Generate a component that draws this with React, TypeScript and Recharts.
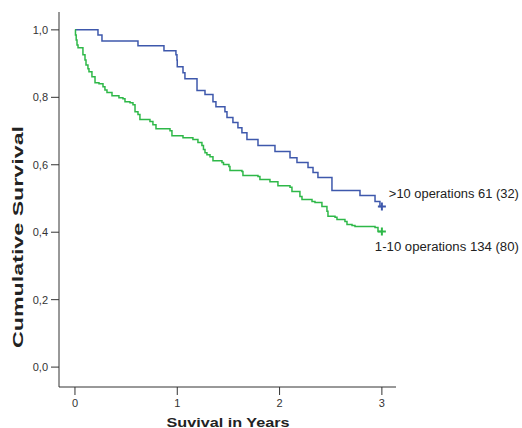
import React from "react";
import { ComposedChart, Line, XAxis, YAxis, Label } from "recharts";

// >10 operations (n=61, 32 events)
const highTimes = [0, 0.225, 0.264, 0.616, 0.87, 0.987, 0.997, 1.0, 1.056, 1.075, 1.193, 1.271, 1.349, 1.378, 1.466, 1.486, 1.544, 1.593, 1.632, 1.681, 1.789, 1.955, 2.102, 2.17, 2.278, 2.327, 2.375, 2.512, 2.786, 2.933, 2.981, 3.0];
const highSurv = [1.0, 0.985, 0.967, 0.953, 0.938, 0.926, 0.911, 0.891, 0.873, 0.855, 0.82, 0.808, 0.787, 0.772, 0.757, 0.74, 0.725, 0.71, 0.695, 0.675, 0.657, 0.639, 0.621, 0.607, 0.592, 0.577, 0.562, 0.524, 0.509, 0.491, 0.476, 0.476];

// 1-10 operations (n=134, 80 events)
const lowTimes = [0, 0.005, 0.012, 0.02, 0.03, 0.078, 0.098, 0.108, 0.127, 0.137, 0.166, 0.196, 0.235, 0.274, 0.293, 0.313, 0.362, 0.43, 0.469, 0.489, 0.538, 0.567, 0.587, 0.616, 0.635, 0.733, 0.762, 0.792, 0.929, 0.948, 1.056, 1.153, 1.202, 1.241, 1.256, 1.271, 1.29, 1.32, 1.349, 1.437, 1.452, 1.505, 1.515, 1.632, 1.642, 1.789, 1.808, 1.906, 1.984, 2.102, 2.121, 2.199, 2.219, 2.317, 2.346, 2.414, 2.463, 2.473, 2.542, 2.561, 2.639, 2.659, 2.708, 2.737, 2.933, 2.962, 3.0];
const lowSurv = [1.0, 0.985, 0.97, 0.955, 0.947, 0.926, 0.911, 0.896, 0.885, 0.876, 0.861, 0.843, 0.84, 0.831, 0.822, 0.814, 0.805, 0.799, 0.796, 0.787, 0.784, 0.778, 0.757, 0.749, 0.734, 0.728, 0.719, 0.707, 0.701, 0.686, 0.68, 0.675, 0.666, 0.657, 0.645, 0.636, 0.63, 0.624, 0.612, 0.607, 0.601, 0.595, 0.583, 0.58, 0.568, 0.565, 0.556, 0.55, 0.538, 0.533, 0.521, 0.506, 0.497, 0.491, 0.488, 0.476, 0.462, 0.447, 0.444, 0.438, 0.432, 0.423, 0.42, 0.417, 0.414, 0.402, 0.402];

const yTicks = [0, 0.2, 0.4, 0.6, 0.8, 1.0];
const xTicks = [0, 1, 2, 3];
const highLabel = ">10 operations 61 (32)";
const lowLabel = "1-10 operations 134 (80)";

const FONT = '"Liberation Sans", Arial, sans-serif';
const BLUE = "#3e58ac";
const GREEN = "#2eb848";
const AXIS = "#333333";

const highData = highTimes.map((t, i) => ({ t, s: highSurv[i] }));
const lowData = lowTimes.map((t, i) => ({ t, s: lowSurv[i] }));

// censor "+" at the last point, with the group label next to it
function endMark(color: string, text: string, dx: number, dy: number, len: number, last: number) {
  return (props: any) => {
    const { cx, cy, index } = props;
    if (index !== last) return <g key={`d-${index}`} />;
    return (
      <g key={`d-${index}`}>
        <path d={`M${cx - 4},${cy}H${cx + 4}M${cx},${cy - 4}V${cy + 4}`} stroke={color} strokeWidth={2} />
        <text x={cx + dx} y={cy + dy} fontSize={12.5} fill="#222" fontFamily={FONT} dominantBaseline="central" textLength={len} lengthAdjust="spacingAndGlyphs">
          {text}
        </text>
      </g>
    );
  };
}

export default function App() {
  return (
    <div style={{ position: "absolute", left: 0, top: 0, background: "#fff" }}>
      <ComposedChart width={522} height={428} margin={{ top: 12, right: 126, bottom: 0, left: 0 }}>
        <XAxis
          type="number"
          dataKey="t"
          domain={[-0.156, 3.138]}
          ticks={xTicks}
          height={41}
          tickSize={8}
          tickMargin={4}
          stroke={AXIS}
          tick={{ fontSize: 11, fill: "#333", fontFamily: FONT }}
        >
          <Label
            content={() => (
              <text x={228} y={422} textAnchor="middle" dominantBaseline="central" fontSize={13} fontWeight="bold" fill="#222" fontFamily={FONT} textLength={123} lengthAdjust="spacingAndGlyphs">
                Suvival in Years
              </text>
            )}
          />
        </XAxis>
        <YAxis
          type="number"
          dataKey="s"
          domain={[-0.059, 1.053]}
          ticks={yTicks}
          width={59}
          tickSize={8}
          tickMargin={3}
          stroke={AXIS}
          tickFormatter={(v: number) => v.toFixed(1).replace(".", ",")}
          tick={{ fontSize: 11, fill: "#333", fontFamily: FONT }}
        >
          <Label
            content={() => (
              <text x={18} y={237} transform="rotate(-90,18,237)" textAnchor="middle" dominantBaseline="central" fontSize={14} fontWeight="bold" fill="#222" fontFamily={FONT} textLength={222} lengthAdjust="spacingAndGlyphs">
                Cumulative Survival
              </text>
            )}
          />
        </YAxis>
        <Line
          data={highData}
          dataKey="s"
          type="stepAfter"
          stroke={BLUE}
          strokeWidth={1.5}
          dot={endMark(BLUE, highLabel, 7, -13, 130, highData.length - 1)}
          activeDot={false}
          isAnimationActive={false}
        />
        <Line
          data={lowData}
          dataKey="s"
          type="stepAfter"
          stroke={GREEN}
          strokeWidth={1.5}
          dot={endMark(GREEN, lowLabel, -7, 15, 144, lowData.length - 1)}
          activeDot={false}
          isAnimationActive={false}
        />
      </ComposedChart>
    </div>
  );
}
